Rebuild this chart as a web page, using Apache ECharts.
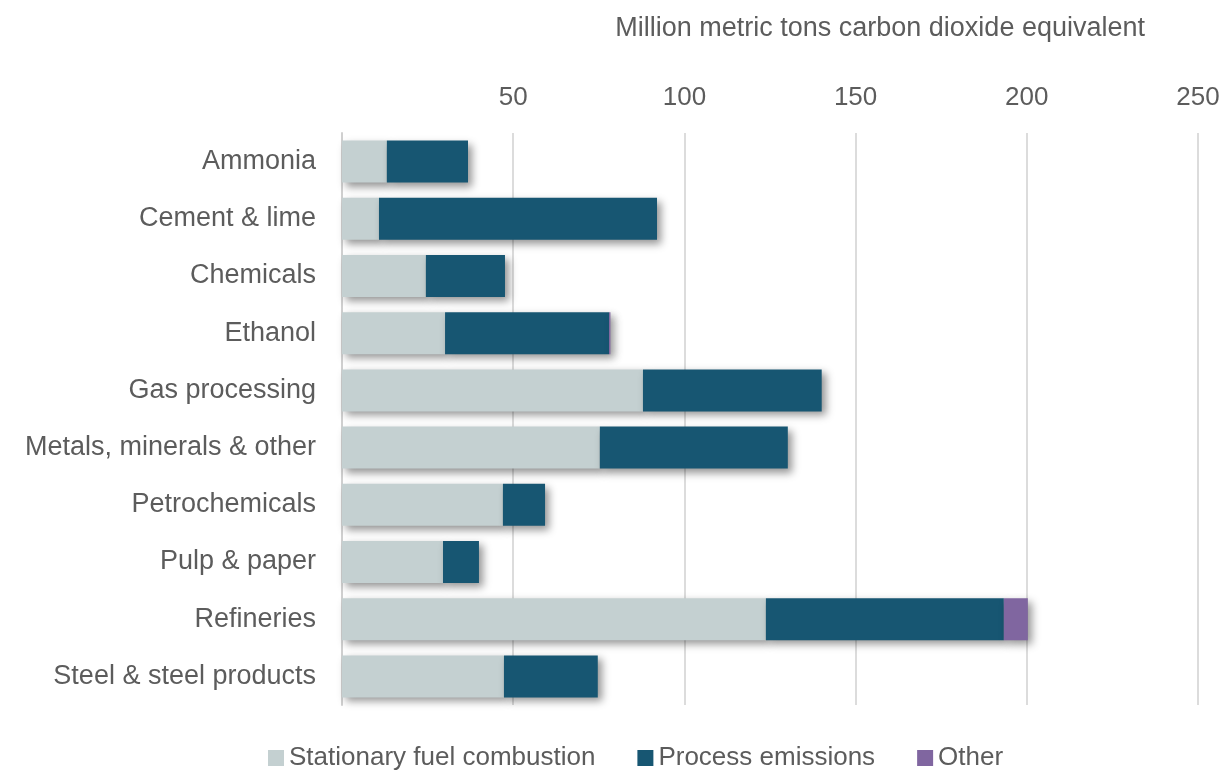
<!DOCTYPE html>
<html>
<head>
<meta charset="utf-8">
<script src="https://cdn.jsdelivr.net/npm/echarts@6/dist/echarts.min.js"></script>
<style>
  html, body { margin: 0; padding: 0; background: #ffffff; }
  #chart { width: 1231px; height: 770px; }
</style>
</head>
<body>
<div id="chart"></div>
<script>
// Industrial emissions by sector, million metric tons CO2 equivalent
const sectors = [
  'Ammonia', 'Cement & lime', 'Chemicals', 'Ethanol', 'Gas processing',
  'Metals, minerals & other', 'Petrochemicals', 'Pulp & paper', 'Refineries',
  'Steel & steel products'
];
const stationaryCombustion = [13.1, 10.8, 24.5, 30.1, 87.9, 75.3, 47.0, 29.5, 123.8, 47.3];
const processEmissions     = [23.7, 81.2, 23.1, 47.9, 52.2, 54.9, 12.3, 10.5, 69.5, 27.4];
const otherEmissions       = [0, 0, 0, 0.4, 0, 0, 0, 0, 7.0, 0];
const xTicks = [0, 50, 100, 150, 200, 250];

const textColor = '#5c5c5c';
const fontFamily = '"Liberation Sans", Arial, sans-serif';

const shadow = {
  shadowBlur: 8,
  shadowOffsetX: 4,
  shadowOffsetY: 4,
  shadowColor: 'rgba(0,0,0,0.42)'
};

const chart = echarts.init(document.getElementById('chart'), null, { renderer: 'canvas' });

function barSeries(name, data, color) {
  return {
    name: name,
    type: 'bar',
    stack: 'total',
    data: data,
    barWidth: 42,
    itemStyle: Object.assign({ color: color }, shadow),
    emphasis: { disabled: true }
  };
}

chart.setOption({
  animation: false,
  backgroundColor: '#ffffff',
  textStyle: { fontFamily: fontFamily },
  title: {
    text: 'Million metric tons carbon dioxide equivalent',
    right: 81,
    top: 10,
    textStyle: { color: textColor, fontSize: 27, fontWeight: 'normal', fontFamily: fontFamily }
  },
  legend: {
    bottom: -6,
    left: 263,
    itemWidth: 16,
    itemHeight: 16,
    itemGap: 42,
    icon: 'rect',
    textStyle: { color: textColor, fontSize: 26, fontFamily: fontFamily },
    data: ['Stationary fuel combustion', 'Process emissions', 'Other']
  },
  grid: {
    left: 342,
    right: 33,
    top: 133,
    bottom: 65,
    containLabel: false
  },
  xAxis: {
    type: 'value',
    position: 'top',
    min: xTicks[0],
    max: xTicks[xTicks.length - 1],
    interval: xTicks[1] - xTicks[0],
    axisLine: { show: false },
    axisTick: { show: false },
    axisLabel: {
      color: textColor,
      fontSize: 26,
      fontFamily: fontFamily,
      margin: 22,
      formatter: v => (v === 0 ? '' : String(v))
    },
    splitLine: { show: true, lineStyle: { color: '#dcdcdc', width: 2 } }
  },
  yAxis: {
    type: 'category',
    inverse: true,
    data: sectors,
    axisLine: { show: true, lineStyle: { color: '#d0d0d0', width: 2 } },
    axisTick: { show: false },
    axisLabel: { color: textColor, fontSize: 27, fontFamily: fontFamily, margin: 26 }
  },
  series: [
    barSeries('Stationary fuel combustion', stationaryCombustion, '#c4d0d1'),
    barSeries('Process emissions', processEmissions, '#175672'),
    barSeries('Other', otherEmissions, '#8066a0')
  ]
});
</script>
</body>
</html>
